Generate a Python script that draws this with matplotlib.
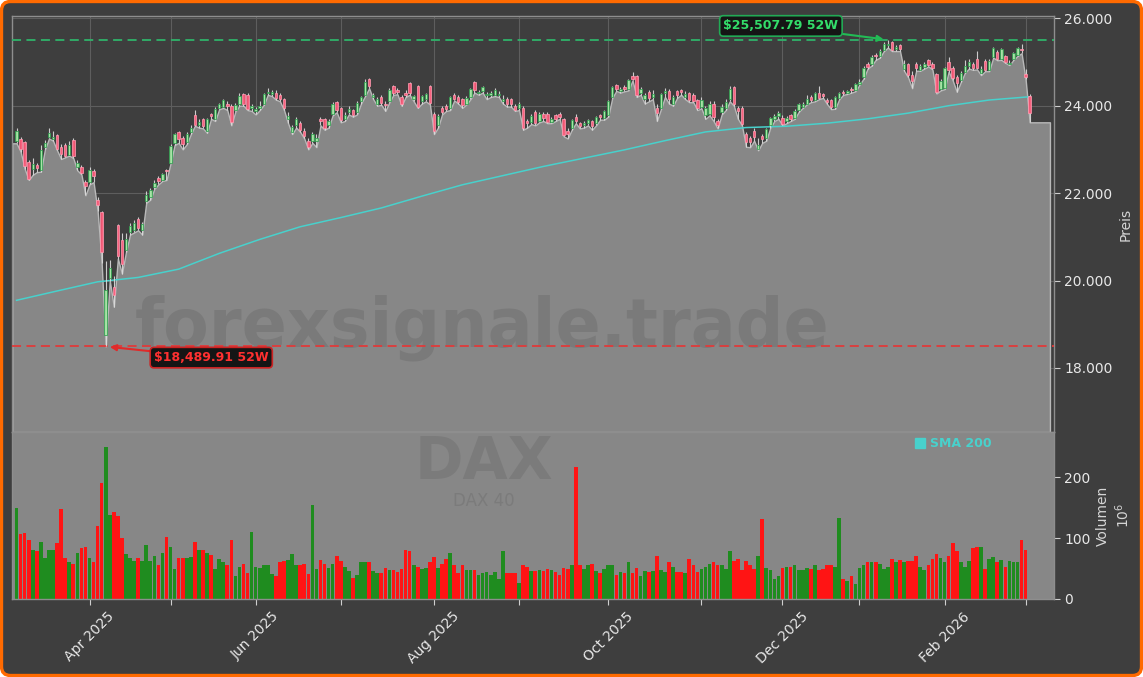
import numpy as np
import pandas as pd
import matplotlib
matplotlib.use("Agg")
import matplotlib.pyplot as plt
from matplotlib.patches import FancyBboxPatch
from matplotlib.lines import Line2D
from matplotlib.ticker import FuncFormatter, FixedLocator

# ---------------- data ----------------
holidays = ["2025-04-18", "2025-04-21", "2025-05-01", "2025-12-24", "2025-12-25",
            "2025-12-26", "2025-12-31", "2026-01-01"]
dates = pd.bdate_range("2025-03-06", "2026-03-03", freq="C", holidays=holidays)

open_ = [
    23200, 23230, 23170, 22720, 22560, 22640, 22530, 23060, 23290, 23240,
    23330, 23050, 23100, 22880, 23220, 22600, 22600, 22250, 22250, 22500,
    21850, 21560, 18750, 20060, 19855, 21270, 20920, 20700, 21100, 21150,
    21400, 21150, 21820, 21900, 22150, 22350, 22300, 22530, 22700, 23150,
    23400, 23260, 23180, 23400, 23780, 23560, 23700, 23420, 23800, 23700,
    23950, 23980, 24050, 24000, 23900, 24050, 24270, 24250, 23940, 23880,
    23940, 24050, 24280, 24270, 24300, 24250, 24150, 23700, 23400, 23550,
    23600, 23420, 23200, 23200, 23200, 23700, 23700, 23550, 23800, 24080,
    23950, 23700, 23850, 23900, 23850, 24100, 24250, 24600, 24200, 24050,
    24200, 24050, 24100, 24450, 24350, 24200, 24300, 24520, 24150, 24450,
    24100, 24150, 24450, 23800, 23550, 23950, 24000, 23950, 24250, 24200,
    24150, 24050, 24200, 24540, 24280, 24330, 24240, 24250, 24240, 24240,
    24100, 24150, 24150, 24000, 23950, 23950, 23650, 23620, 23850, 23650,
    23800, 23820, 23630, 23780, 23800, 23700, 23420, 23480, 23750, 23600,
    23550, 23600, 23640, 23600, 23780, 23720, 23780, 24200, 24480, 24330,
    24430, 24380, 24680, 24680, 24300, 24150, 24320, 24200, 23950, 23950,
    24280, 24340, 24050, 24330, 24350, 24200, 24280, 24250, 24120, 23970,
    23780, 23800, 24050, 23640, 23850, 23950, 24150, 24430, 23950, 23950,
    23350, 23250, 23430, 23000, 23300, 23250, 23550, 23700, 23760, 23730,
    23640, 23790, 23730, 23900, 23970, 24050, 24200, 24130, 24300, 24260,
    24130, 24130, 23960, 24180, 24320, 24290, 24380, 24350, 24500, 24650,
    24950, 24950, 25150, 25130, 25270, 25390, 25460, 25290, 25380, 24850,
    24950, 24700, 24950, 24820, 24880, 25050, 24950, 24720, 24380, 24400,
    24990, 24870, 24650, 24580, 24780, 24900, 24950, 25080, 24760, 25020,
    24820, 25120, 25240, 25080, 25140, 24950, 25080, 25160, 25300, 24720,
    24230]

high = [
    23480, 23290, 23200, 22760, 22800, 22700, 23100, 23210, 23480, 23420,
    23360, 23120, 23150, 23200, 23250, 22760, 22650, 22300, 22600, 22550,
    21900, 21600, 20450, 20470, 20100, 21300, 21080, 21080, 21320, 21380,
    21450, 21350, 22050, 22120, 22300, 22400, 22470, 22560, 23120, 23380,
    23430, 23300, 23400, 23550, 23910, 23700, 23720, 23720, 23840, 23980,
    24070, 24150, 24100, 24050, 24060, 24280, 24300, 24280, 24050, 23980,
    24100, 24300, 24400, 24350, 24350, 24280, 24180, 23850, 23560, 23750,
    23650, 23480, 23250, 23400, 23350, 23750, 23720, 23700, 24080, 24100,
    23980, 23850, 24000, 23920, 24100, 24230, 24600, 24640, 24300, 24200,
    24250, 24100, 24400, 24480, 24400, 24250, 24350, 24540, 24250, 24480,
    24250, 24300, 24480, 23850, 23800, 24000, 24050, 24220, 24280, 24250,
    24180, 24230, 24400, 24560, 24370, 24450, 24320, 24340, 24400, 24330,
    24250, 24200, 24180, 24050, 24080, 24000, 23700, 23800, 23900, 23850,
    23850, 23860, 23740, 23800, 23850, 23720, 23480, 23700, 23800, 23630,
    23650, 23700, 23680, 23760, 23800, 23900, 24130, 24450, 24500, 24420,
    24480, 24620, 24770, 24700, 24420, 24300, 24350, 24350, 24050, 24300,
    24400, 24380, 24250, 24360, 24380, 24330, 24320, 24280, 24150, 24200,
    24000, 24100, 24100, 23700, 24050, 24150, 24460, 24450, 24000, 24000,
    23400, 23300, 23500, 23250, 23350, 23500, 23750, 23800, 23870, 23780,
    23760, 23820, 23920, 24060, 24080, 24250, 24250, 24320, 24450, 24300,
    24180, 24150, 24230, 24310, 24350, 24370, 24420, 24520, 24600, 24900,
    25000, 25150, 25200, 25300, 25450, 25507.79, 25480, 25400, 25420, 25050,
    24980, 24800, 25000, 24950, 25000, 25080, 24990, 24760, 24600, 24880,
    25120, 24900, 24700, 24800, 25050, 25060, 25000, 25250, 24900, 25060,
    25060, 25350, 25280, 25330, 25170, 25050, 25220, 25340, 25420, 24850,
    24260]

low = [
    23140, 22950, 22560, 22300, 22420, 22480, 22490, 23000, 23250, 23200,
    22980, 22780, 22820, 22860, 22800, 22520, 22430, 21950, 22200, 22250,
    21600, 20400, 18489.91, 20000, 19400, 20500, 20160, 20650, 21050, 21100,
    21150, 21050, 21780, 21850, 22100, 22200, 22280, 22300, 22680, 23100,
    23150, 23000, 23120, 23350, 23540, 23500, 23480, 23380, 23700, 23650,
    23920, 23950, 23900, 23550, 23870, 24000, 24000, 23900, 23880, 23800,
    23900, 24020, 24250, 24220, 24140, 24100, 23900, 23600, 23350, 23500,
    23400, 23250, 23000, 23150, 23050, 23550, 23450, 23500, 23780, 23850,
    23620, 23650, 23800, 23750, 23800, 24050, 24220, 24400, 24150, 24000,
    24020, 23880, 24080, 24250, 24260, 24000, 24200, 24250, 24100, 23950,
    24050, 24100, 24030, 23350, 23500, 23800, 23880, 23900, 24120, 24050,
    23950, 24030, 24150, 24300, 24250, 24300, 24150, 24200, 24220, 24200,
    24050, 23980, 23980, 23880, 23900, 23450, 23500, 23580, 23550, 23620,
    23650, 23600, 23600, 23650, 23700, 23300, 23250, 23450, 23600, 23480,
    23500, 23550, 23450, 23550, 23680, 23680, 23750, 24180, 24340, 24300,
    24330, 24350, 24580, 24200, 24250, 24050, 24100, 24150, 23650, 23920,
    24200, 24050, 24000, 24180, 24250, 24150, 24080, 24080, 23900, 23940,
    23700, 23780, 23650, 23480, 23800, 23900, 24100, 24000, 23700, 23550,
    23060, 23050, 23200, 22980, 23150, 23200, 23500, 23650, 23700, 23550,
    23600, 23650, 23700, 23860, 23950, 24030, 24080, 24100, 24150, 24180,
    24040, 23920, 23930, 24150, 24250, 24270, 24300, 24330, 24480, 24620,
    24850, 24920, 25050, 25100, 25250, 25330, 25250, 25250, 25250, 24800,
    24650, 24400, 24800, 24800, 24850, 24900, 24830, 24280, 24350, 24380,
    24780, 24580, 24320, 24540, 24750, 24850, 24820, 24830, 24700, 24790,
    24790, 25100, 25040, 25050, 24980, 24930, 25050, 25140, 25200, 24600,
    23620]

close = [
    23419, 23009, 22621, 22329, 22676, 22567, 22987, 23154, 23380, 23288,
    22999, 22892, 22852, 23109, 22839, 22679, 22461, 22163, 22539, 22390,
    21717, 20642, 19789, 20280, 19670, 20563, 20374, 20954, 21254, 21311,
    21206, 21294, 21962, 22064, 22242, 22271, 22426, 22497, 23087, 23345,
    23249, 23116, 23353, 23499, 23567, 23638, 23527, 23695, 23767, 23935,
    24036, 24122, 23999, 23630, 24027, 24226, 24039, 23933, 23997, 23930,
    23994, 24276, 24324, 24304, 24174, 24162, 23949, 23771, 23516, 23699,
    23434, 23317, 23057, 23350, 23269, 23641, 23498, 23649, 24033, 23909,
    23673, 23790, 23934, 23787, 24073, 24206, 24549, 24457, 24255, 24161,
    24060, 24009, 24370, 24290, 24308, 24041, 24240, 24295, 24217, 23970,
    24218, 24262, 24065, 23426, 23757, 23847, 23924, 24193, 24163, 24081,
    24025, 24186, 24377, 24359, 24315, 24423, 24277, 24293, 24363, 24273,
    24152, 24046, 24039, 23902, 24037, 23487, 23595, 23770, 23597, 23807,
    23718, 23633, 23704, 23698, 23749, 23329, 23359, 23675, 23639, 23527,
    23611, 23666, 23534, 23739, 23745, 23881, 24114, 24423, 24378, 24378,
    24385, 24597, 24611, 24241, 24387, 24237, 24181, 24272, 23831, 24259,
    24330, 24152, 24207, 24240, 24309, 24278, 24124, 24118, 23958, 24132,
    23949, 24050, 23734, 23569, 23960, 24088, 24381, 24041, 23877, 23590,
    23180, 23162, 23278, 23091, 23239, 23465, 23727, 23767, 23836, 23589,
    23710, 23693, 23882, 24028, 24046, 24162, 24131, 24294, 24186, 24229,
    24077, 23961, 24200, 24288, 24283, 24340, 24351, 24490, 24539, 24868,
    24892, 25122, 25127, 25261, 25405, 25420, 25286, 25352, 25297, 24959,
    24703, 24560, 24856, 24900, 24946, 24930, 24870, 24320, 24564, 24854,
    24816, 24625, 24510, 24760, 24900, 24990, 24855, 24855, 24830, 24816,
    25020, 25312, 25068, 25297, 25007, 24968, 25198, 25312, 25280, 24664,
    23830]

volume_mio = [
    149, 107, 108, 97, 81, 79, 94, 68, 81, 81,
    92, 148, 68, 61, 57, 76, 83, 85, 68, 61,
    119, 190, 249, 138, 143, 137, 100, 74, 68, 63,
    68, 63, 89, 63, 71, 56, 76, 101, 85, 50,
    68, 68, 68, 69, 94, 81, 81, 76, 73, 49,
    66, 60, 56, 96, 37, 53, 58, 43, 110, 53,
    51, 55, 55, 41, 37, 60, 63, 64, 74, 56,
    55, 58, 41, 155, 50, 64, 58, 51, 57, 71,
    63, 53, 46, 35, 40, 61, 61, 60, 46, 43,
    42, 51, 48, 48, 44, 50, 81, 79, 55, 53,
    50, 51, 61, 69, 51, 58, 66, 76, 56, 42,
    56, 48, 48, 48, 40, 43, 45, 40, 45, 32,
    79, 43, 43, 43, 27, 55, 53, 46, 46, 48,
    46, 50, 48, 45, 40, 51, 50, 55, 216, 56,
    50, 56, 58, 46, 42, 50, 56, 56, 40, 45,
    43, 60, 43, 51, 38, 46, 45, 46, 71, 48,
    45, 60, 53, 45, 45, 43, 66, 56, 45, 50,
    53, 58, 60, 55, 55, 50, 78, 63, 66, 48,
    63, 55, 50, 71, 132, 51, 48, 33, 38, 51,
    53, 53, 55, 48, 48, 51, 50, 55, 48, 50,
    55, 55, 53, 133, 33, 30, 37, 25, 51, 55,
    60, 60, 60, 58, 50, 53, 66, 60, 64, 61,
    63, 63, 71, 53, 48, 56, 66, 74, 68, 60,
    71, 92, 79, 60, 53, 63, 83, 86, 86, 50,
    66, 69, 60, 64, 53, 63, 60, 60, 97, 81,
    0]

sma_idx = list(range(0, 251, 10))
sma200 = [19547, 19760, 19970, 20070, 20260, 20620, 20940, 21230, 21440, 21660,
          21930, 22190, 22400, 22610, 22800, 22990, 23200, 23400, 23500, 23530,
          23600, 23700, 23830, 24000, 24130, 24205]

# ---------------- styling ----------------
BG = "#3e3e3e"
FILL = "#878787"
SMA_C = "#48d1cc"
UP_BODY, UP_EDGE = "#a2e8a2", "#2f9e4f"
DN_BODY, DN_EDGE = "#ff5878", "#ff9ab0"
VOL_UP, VOL_DN = "#1f8c1f", "#ff1414"
TXT = "#e8e8e8"

o = np.array(open_, float)
h = np.array(high, float)
l = np.array(low, float)
c = np.array(close, float)
v = np.array(volume_mio, float)
n = len(c)
dates = dates[:n]
x = np.arange(n)
up = c >= o

YBOT, YTOP = 16533, 26053

fig = plt.figure(figsize=(11.43, 6.77), dpi=100)
fig.patch.set_facecolor("white")
frame = FancyBboxPatch((0.015, 0.015), 11.43 - 0.03, 6.77 - 0.03,
                       boxstyle="round,pad=0,rounding_size=0.09",
                       transform=fig.dpi_scale_trans, facecolor=BG,
                       edgecolor="#ff6a00", linewidth=2.4, zorder=-10)
fig.add_artist(frame)

L, W = 12.3 / 1143, (1054 - 12.3) / 1143
ax = fig.add_axes([L, 1 - 432 / 677, W, (432 - 16) / 677])
axv = fig.add_axes([L, 1 - 599 / 677, W, (599 - 432) / 677], sharex=ax)

# ---- price panel ----
ax.set_facecolor(BG)
ax.set_axisbelow(True)
ax.grid(True, color="#5e5e5e", lw=0.8)

fx = np.r_[-1.05, x, n + 4]
fy = np.r_[l[0], l, l[-1]]
ax.fill_between(fx, fy, YBOT, facecolor=FILL, edgecolor="#b9b9b9", lw=1.0, zorder=1)

ax.text(0.451, 0.25, "forexsignale.trade", transform=ax.transAxes, fontsize=48,
        fontweight="bold", color="#7a7a7a", ha="center", va="center", zorder=1.5)

ax.plot(sma_idx, sma200, color=SMA_C, lw=1.1, zorder=3)

ih = int(np.argmax(h)); il = int(np.argmin(l))
hv, lv = h[ih], l[il]
ax.axhline(hv, color="#2fb36a", ls=(0, (5, 3)), lw=1.3, zorder=3)
ax.axhline(lv, color="#e03a3a", ls=(0, (5, 3)), lw=1.3, zorder=3)

ax.vlines(x, l, h, color="#dcdcdc", lw=0.8, zorder=4, alpha=0.9)
ax.bar(x, np.abs(c - o), bottom=np.minimum(o, c), width=0.6,
       color=np.where(up, UP_BODY, DN_BODY), edgecolor=np.where(up, UP_EDGE, DN_EDGE),
       linewidth=0.6, zorder=5, alpha=0.9)

ax.annotate(f"${hv:,.2f} 52W", xy=(ih, hv), xytext=(-77, 10), textcoords="offset points",
            ha="center", va="center", color="#33dd6a", fontsize=9, fontweight="bold",
            bbox=dict(boxstyle="round,pad=0.3", fc="#151515", ec="#22aa55", lw=1.2),
            arrowprops=dict(arrowstyle="-|>", color="#22bb55", lw=1.5, shrinkA=0, shrinkB=3),
            zorder=8)
ax.annotate(f"${lv:,.2f} 52W", xy=(il, lv), xytext=(76, -8), textcoords="offset points",
            ha="center", va="center", color="#ff3030", fontsize=9, fontweight="bold",
            bbox=dict(boxstyle="round,pad=0.3", fc="#151515", ec="#cc2222", lw=1.2),
            arrowprops=dict(arrowstyle="-|>", color="#e02a2a", lw=1.5, shrinkA=0, shrinkB=3),
            zorder=8)

ax.set_xlim(-1.05, n + 5)
ax.set_ylim(YBOT, YTOP)
ax.yaxis.tick_right()
ax.yaxis.set_label_position("right")
ax.yaxis.set_major_locator(FixedLocator([18000, 20000, 22000, 24000, 26000]))
ax.yaxis.set_major_formatter(FuncFormatter(lambda val, p: f"{val:,.0f}".replace(",", ".")))
ax.set_ylabel("Preis", color="#d5d5d5", fontsize=10)
ax.tick_params(axis="y", colors="#cfcfcf", labelcolor=TXT, labelsize=10, length=4)
ax.tick_params(axis="x", labelbottom=False, length=0)

# ---- volume panel ----
axv.set_facecolor(FILL)
axv.text(0.453, 0.82, "DAX", transform=axv.transAxes, fontsize=42, fontweight="bold",
         color="#7b7b7b", ha="center", va="center", zorder=1)
axv.text(0.453, 0.585, "DAX 40", transform=axv.transAxes, fontsize=12,
         color="#7b7b7b", ha="center", va="center", zorder=1)
axv.bar(x, v, width=0.9, color=np.where(up, VOL_UP, VOL_DN), zorder=2)
axv.set_ylim(0, 274)
axv.yaxis.tick_right()
axv.yaxis.set_label_position("right")
axv.yaxis.set_major_locator(FixedLocator([0, 100, 200]))
axv.set_ylabel("Volumen\n$10^6$", color="#d5d5d5", fontsize=10)
axv.tick_params(axis="y", colors="#cfcfcf", labelcolor=TXT, labelsize=10, length=4)

month_pos = [i for i in range(1, n) if dates[i].month != dates[i - 1].month]
month_lab = [dates[i].strftime("%b %Y") if dates[i].month % 2 == 0 else "" for i in month_pos]
axv.xaxis.set_major_locator(FixedLocator(month_pos))
axv.set_xticklabels(month_lab, rotation=45, ha="center", color=TXT, fontsize=10)
axv.tick_params(axis="x", colors="#cfcfcf", labelcolor=TXT, length=4)

leg = axv.legend(handles=[Line2D([0], [0], marker="s", ls="none", color=SMA_C, markersize=6.5)],
                 labels=["SMA 200"], loc="upper left", bbox_to_anchor=(0.863, 0.99),
                 frameon=False, prop=dict(weight="bold", size=9), labelcolor=SMA_C,
                 handlelength=0.8, handletextpad=0.4, borderaxespad=0, borderpad=0.3)

for a in (ax, axv):
    for s in a.spines.values():
        s.set_color("#8e8e8e")
        s.set_linewidth(1)

fig.savefig("out.png", dpi=100, facecolor=fig.get_facecolor())
